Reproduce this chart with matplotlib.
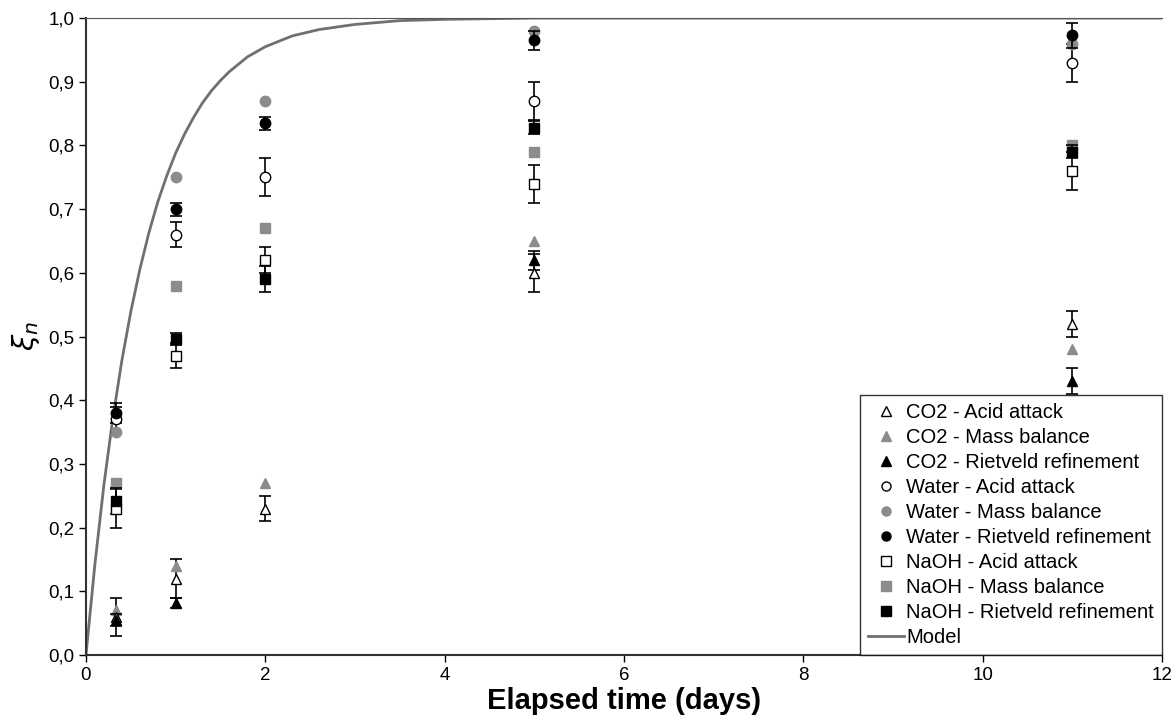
# xi_n vs elapsed time, three carbonation media
import numpy as np
import matplotlib
matplotlib.use('Agg')
from matplotlib import pyplot as plt
from matplotlib.ticker import FuncFormatter
from matplotlib.lines import Line2D

plt.rcParams['font.family'] = ['Liberation Sans', 'DejaVu Sans']

days = [0.33, 1, 2, 5, 11]

co2_acid = [0.06, 0.12, 0.23, 0.60, 0.52]
co2_acid_err = [0.03, 0.03, 0.02, 0.03, 0.02]
co2_mass = [0.07, 0.14, 0.27, 0.65, 0.48]
co2_riet = [0.055, 0.082, np.nan, 0.62, 0.43]
co2_riet_err = [0.01, 0.008, np.nan, 0.015, 0.02]

water_acid = [0.37, 0.66, 0.75, 0.87, 0.93]
water_acid_err = [0.02, 0.02, 0.03, 0.03, 0.03]
water_mass = [0.35, 0.75, 0.87, 0.98, 0.96]
water_riet = [0.38, 0.70, 0.835, 0.965, 0.973]
water_riet_err = [0.015, 0.01, 0.01, 0.015, 0.02]

naoh_acid = [0.23, 0.47, 0.62, 0.74, 0.76]
naoh_acid_err = [0.03, 0.02, 0.02, 0.03, 0.03]
naoh_mass = [0.27, 0.58, 0.67, 0.79, 0.80]
naoh_riet = [0.242, 0.496, 0.59, 0.828, 0.79]
naoh_riet_err = [0.02, 0.01, 0.02, 0.01, 0.01]

# model curve
model_t = [0, 0.1, 0.2, 0.3, 0.4, 0.5, 0.6, 0.7, 0.8, 0.9, 1.0, 1.1, 1.2, 1.3,
           1.4, 1.5, 1.6, 1.8, 2.0, 2.3, 2.6, 3.0, 3.5, 4.0, 5, 12]
model_y = [0, 0.143, 0.267, 0.372, 0.462, 0.539, 0.605, 0.662, 0.711, 0.752,
           0.788, 0.818, 0.844, 0.867, 0.886, 0.902, 0.916, 0.939, 0.955,
           0.972, 0.982, 0.990, 0.996, 0.998, 1.0, 1.0]

gray = '#8c8c8c'
fig = plt.figure(figsize=(11.76, 7.23), dpi=100)
ax = fig.add_axes([0.0731, 0.094, 0.915, 0.881])

ms = 7.5
eb = dict(ecolor='black', elinewidth=1.2, capsize=4, capthick=1.2, linestyle='none')

ax.plot(model_t, model_y, color='#707070', lw=2, zorder=1)
ax.errorbar(days, co2_acid, yerr=co2_acid_err, marker='^', mfc='white', mec='black', ms=ms, **eb)
ax.plot(days, co2_mass, '^', color=gray, ms=ms)
ax.errorbar(days, co2_riet, yerr=co2_riet_err, marker='^', mfc='black', mec='black', ms=ms, **eb)
ax.errorbar(days, water_acid, yerr=water_acid_err, marker='o', mfc='white', mec='black', ms=ms, **eb)
ax.plot(days, water_mass, 'o', color=gray, ms=ms)
ax.errorbar(days, water_riet, yerr=water_riet_err, marker='o', mfc='black', mec='black', ms=ms, **eb)
ax.errorbar(days, naoh_acid, yerr=naoh_acid_err, marker='s', mfc='white', mec='black', ms=ms - 0.5, **eb)
ax.plot(days, naoh_mass, 's', color=gray, ms=ms - 0.5)
ax.errorbar(days, naoh_riet, yerr=naoh_riet_err, marker='s', mfc='black', mec='black', ms=ms - 0.5, **eb)

ax.set_xlim(0, 12)
ax.set_ylim(0, 1.0)
ax.set_xticks(np.arange(0, 13, 2))
ax.set_yticks(np.arange(0, 1.01, 0.1))
ax.yaxis.set_major_formatter(FuncFormatter(lambda v, p: f'{v:.1f}'.replace('.', ',')))
ax.tick_params(direction='out', length=5, width=1, labelsize=13.5, colors='black')

for s in ['left', 'bottom']:
    ax.spines[s].set_color('#333333')
    ax.spines[s].set_linewidth(1.5)
ax.spines['top'].set_color('#555555')
ax.spines['right'].set_visible(False)

ax.set_xlabel('Elapsed time (days)', fontsize=21, fontweight='bold', labelpad=2)
ax.set_ylabel(r'$\xi_n$', fontsize=21, rotation=90, labelpad=4)

# legend handles in the reference order, markers only
def h(marker, fc, label, ls='none'):
    return Line2D([], [], marker=marker, mfc=fc, mec='black' if fc != gray else gray,
                  ms=6.5, linestyle=ls, color='black', label=label)

handles = [
    h('^', 'white', 'CO2 - Acid attack'),
    h('^', gray, 'CO2 - Mass balance'),
    h('^', 'black', 'CO2 - Rietveld refinement'),
    h('o', 'white', 'Water - Acid attack'),
    h('o', gray, 'Water - Mass balance'),
    h('o', 'black', 'Water - Rietveld refinement'),
    h('s', 'white', 'NaOH - Acid attack'),
    h('s', gray, 'NaOH - Mass balance'),
    h('s', 'black', 'NaOH - Rietveld refinement'),
    Line2D([], [], color='#707070', lw=2, label='Model'),
]
leg = ax.legend(handles=handles, loc='lower right', fontsize=14.5, frameon=True,
                fancybox=False, borderaxespad=0, handlelength=1.8, handletextpad=0.1,
                labelspacing=0.3, borderpad=0.4, bbox_to_anchor=(1.0, 0.0))
leg.get_frame().set_edgecolor('black')
leg.get_frame().set_linewidth(1.0)

fig.savefig('out.png', dpi=100)
